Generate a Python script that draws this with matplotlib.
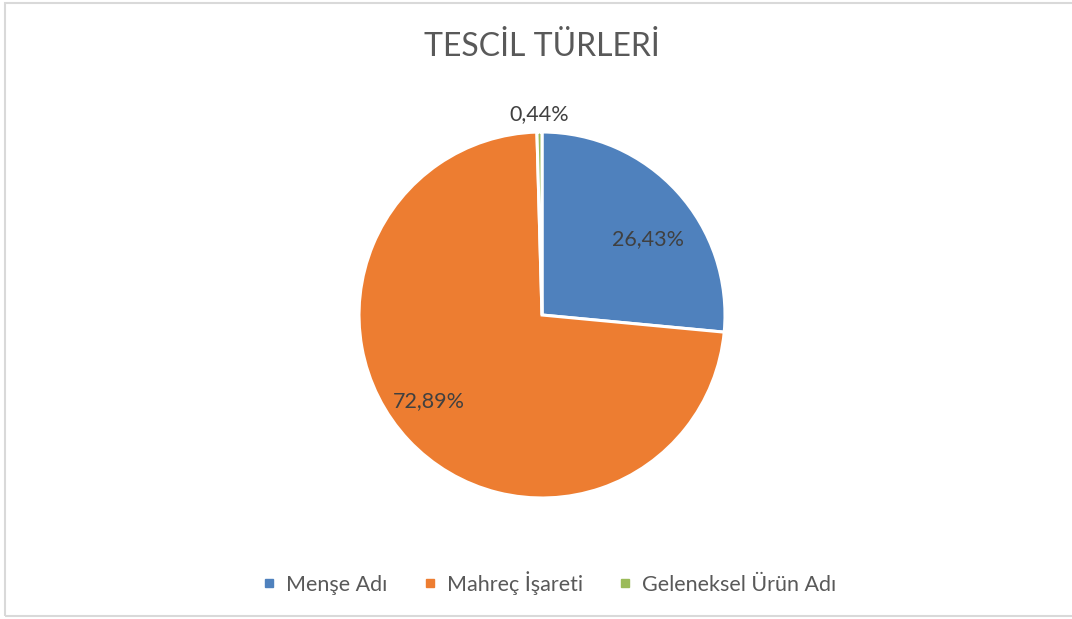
import numpy as np
import matplotlib
matplotlib.use("Agg")
from matplotlib import pyplot as plt
from matplotlib.patches import Rectangle
from matplotlib.lines import Line2D

plt.rcParams['font.family'] = ['Lato', 'DejaVu Sans']

# data
categories = ["Menşe Adı", "Mahreç İşareti", "Geleneksel Ürün Adı"]
shares = [26.43, 72.89, 0.44]
colors = ["#4F81BD", "#ED7D31", "#9BBB59"]
label_dist = [0.71, 0.775, 1.10]
label_turn = [-6.7, -5.8, 0.0]   # degrees, nudges label around the wedge

W, H = 1072, 619
fig = plt.figure(figsize=(W / 100, H / 100), dpi=100)
fig.patch.set_facecolor("white")

# light border around chart area
fig.add_artist(Rectangle((5 / W, 1 - 616 / H), 1.2, (616 - 3) / H,
                         transform=fig.transFigure, fill=False,
                         edgecolor="#d9d9d9", linewidth=1.5))

# pie axes, centre (542,315) radius 183 px
cx, cy, r = 542, 315, 183
ax = fig.add_axes([(cx - r) / W, (H - cy - r) / H, 2 * r / W, 2 * r / H])
wedges, _ = ax.pie(shares, colors=colors, startangle=90, counterclock=False,
                   wedgeprops=dict(edgecolor="white", linewidth=2.2))
ax.set_aspect("equal")
ax.set_xlim(-1, 1)
ax.set_ylim(-1, 1)
ax.axis("off")

for w, v, d, t in zip(wedges, shares, label_dist, label_turn):
    ang = np.deg2rad((w.theta1 + w.theta2) / 2 + t)
    ax.text(d * np.cos(ang), d * np.sin(ang), f"{v:.2f}%".replace(".", ","),
            ha="center", va="center", fontsize=15.5, color="#404040",
            clip_on=False)

fig.text(542 / W, 1 - 47 / H, "TESCİL TÜRLERİ", ha="center", va="center",
         fontsize=23, color="#595959")

handles = [Line2D([], [], marker="s", linestyle="", markersize=6,
                  markerfacecolor=c, markeredgecolor=c) for c in colors]
fig.legend(handles, categories, loc="center", bbox_to_anchor=(549 / W, 1 - 583 / H),
           ncol=3, frameon=False, fontsize=15.5, labelcolor="#595959",
           handletextpad=0.45, columnspacing=1.6, handlelength=0.7)

fig.savefig("out.png", dpi=100)
